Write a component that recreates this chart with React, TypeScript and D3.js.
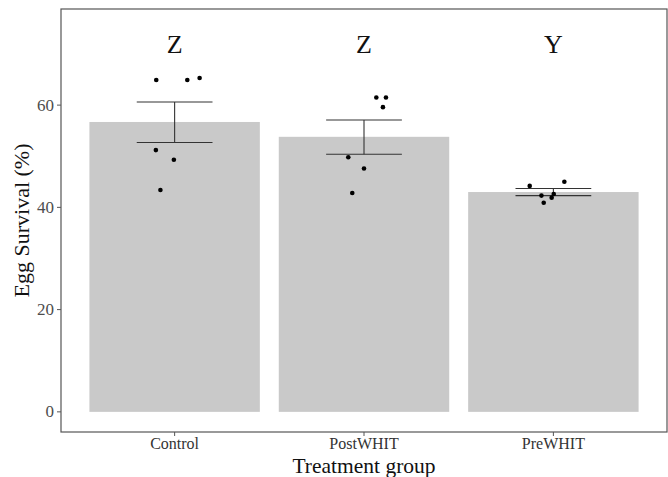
import * as d3 from "d3";

const groups = ["Control", "PostWHIT", "PreWHIT"];
const means = [56.7, 53.8, 43.0];
const seLow = [52.7, 50.4, 42.3];
const seHigh = [60.6, 57.1, 43.7];
const letters = ["Z", "Z", "Y"];
const letterY = 71.8;

// individual replicates: [jitter (category units), value]
const controlPts = [
  [-0.097, 64.9], [0.067, 64.9], [0.132, 65.3], [-0.099, 51.2], [-0.004, 49.3], [-0.075, 43.4],
];
const postPts = [
  [0.065, 61.5], [0.116, 61.5], [0.1, 59.6], [-0.083, 49.8], [0.0, 47.6], [-0.062, 42.8],
];
const prePts = [
  [-0.125, 44.2], [0.058, 45.0], [-0.063, 42.3], [-0.051, 40.9], [-0.009, 41.9], [0.002, 42.6],
];
const yTicks = [0, 20, 40, 60];

const W = 668;
const H = 477;
const M = { top: 9, right: 1, bottom: 45, left: 61 };

export default function App() {
  // ggplot-style discrete axis: 0.6 category expansion each side, bar width 0.9
  const x = d3
    .scalePoint()
    .domain(groups)
    .range([M.left, W - M.right])
    .padding(0.6);
  const step = x.step();
  const cx = (i: number) => x(groups[i]) as number;
  const y = d3.scaleLinear().domain([-3.94, 78.8]).range([H - M.bottom, M.top]);
  const barW = step * 0.9;
  const errW = step * 0.4;
  const allPts = [controlPts, postPts, prePts];
  const font = "'Liberation Serif', 'Times New Roman', serif";

  return (
    <div style={{ position: "fixed", left: 0, top: 0 }}>
      <svg width={W} height={H} style={{ display: "block", background: "#fff" }} fontFamily={font}>
        {groups.map((g, i) => (
          <rect
            key={g}
            x={cx(i) - barW / 2}
            y={y(means[i])}
            width={barW}
            height={y(0) - y(means[i])}
            fill="#c9c9c9"
          />
        ))}
        {groups.map((g, i) => (
          <g key={"e" + g} stroke="#333" strokeWidth={1.1}>
            <line x1={cx(i)} x2={cx(i)} y1={y(seLow[i])} y2={y(seHigh[i])} />
            <line x1={cx(i) - errW / 2} x2={cx(i) + errW / 2} y1={y(seLow[i])} y2={y(seLow[i])} />
            <line x1={cx(i) - errW / 2} x2={cx(i) + errW / 2} y1={y(seHigh[i])} y2={y(seHigh[i])} />
          </g>
        ))}
        {allPts.map((pts, i) =>
          pts.map((p, j) => (
            <circle key={i + "-" + j} cx={cx(i) + p[0] * step} cy={y(p[1])} r={2.3} fill="#000" />
          ))
        )}
        {letters.map((l, i) => (
          <text key={"l" + i} x={cx(i)} y={y(letterY)} textAnchor="middle" dominantBaseline="central" fontSize={26} fill="#111">
            {l}
          </text>
        ))}
        <rect
          x={M.left}
          y={M.top}
          width={W - M.right - M.left}
          height={H - M.bottom - M.top}
          fill="none"
          stroke="#555"
          strokeWidth={1.2}
        />
        {yTicks.map((t) => (
          <g key={"yt" + t}>
            <line x1={M.left - 4} x2={M.left} y1={y(t)} y2={y(t)} stroke="#555" />
            <text x={M.left - 7} y={y(t)} textAnchor="end" dominantBaseline="central" fontSize={17} fill="#4d4d4d">
              {t}
            </text>
          </g>
        ))}
        {groups.map((g, i) => (
          <g key={"xt" + g}>
            <line x1={cx(i)} x2={cx(i)} y1={H - M.bottom} y2={H - M.bottom + 4} stroke="#555" />
            <text x={cx(i)} y={449} textAnchor="middle" fontSize={16} fill="#333">
              {g}
            </text>
          </g>
        ))}
        <text x={(M.left + W - M.right) / 2} y={473} textAnchor="middle" fontSize={21.5} fill="#111">
          Treatment group
        </text>
        <text
          transform={`translate(29,${(M.top + H - M.bottom) / 2}) rotate(-90)`}
          textAnchor="middle"
          fontSize={22}
          fill="#111"
        >
          Egg Survival (%)
        </text>
      </svg>
    </div>
  );
}
